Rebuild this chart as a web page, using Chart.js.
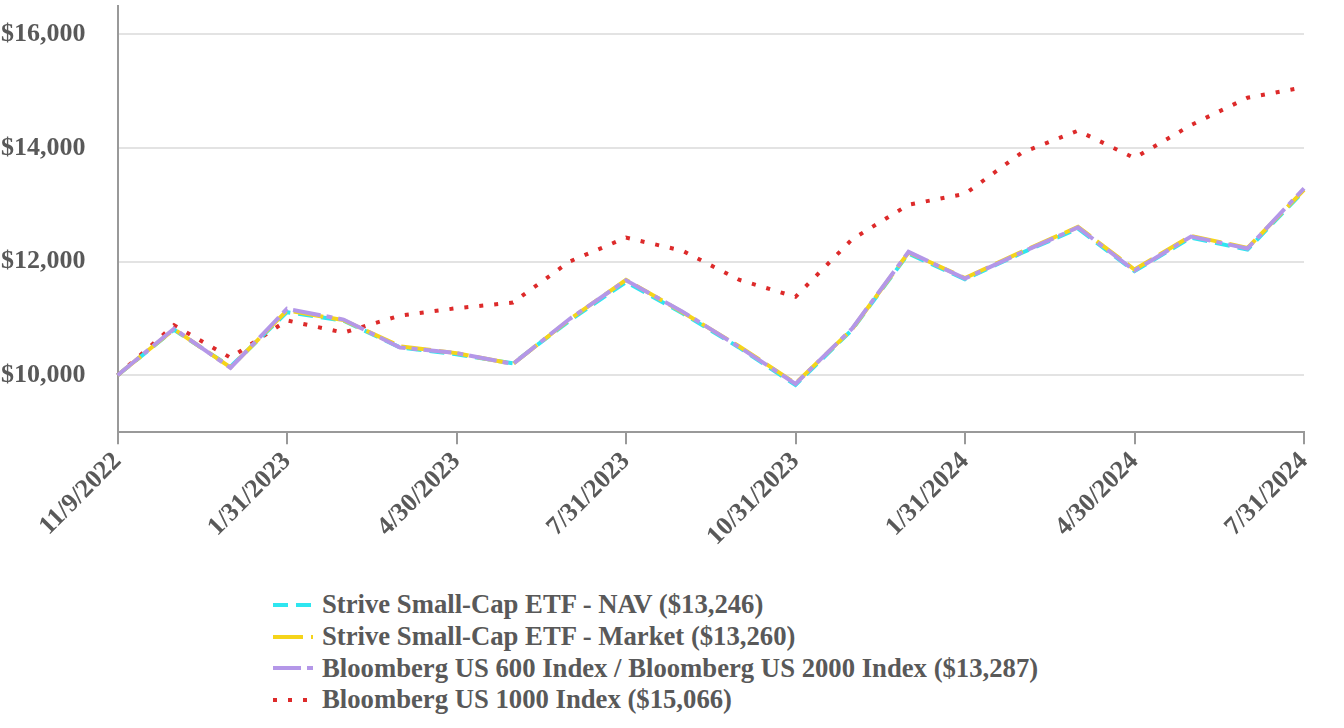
<!DOCTYPE html>
<html>
<head>
<meta charset="utf-8">
<script src="https://cdn.jsdelivr.net/npm/chart.js@4.4.1/dist/chart.umd.min.js"></script>
<style>
  body { margin: 0; background: #fff; overflow: hidden; }
  #wrap { position: relative; width: 1344px; height: 728px; overflow: hidden; }
  #box { position: absolute; left: -31px; top: -42px; width: 1375px; height: 596px; }
  #legend { position: absolute; left: 273px; top: 589px; font: bold 26.7px "Liberation Serif", serif; color: #595959; }
  #legend div { display: flex; align-items: center; height: 31.7px; white-space: nowrap; }
  #legend svg { margin-right: 9px; }
</style>
</head>
<body>
<div id="wrap">
  <div id="box"><canvas id="myChart"></canvas></div>
  <div id="legend"></div>
</div>
<script>
// data
const dates = ['11/9/2022', '11/30/2022', '12/31/2022', '1/31/2023', '2/28/2023', '3/31/2023',
    '4/30/2023', '5/31/2023', '6/30/2023', '7/31/2023', '8/31/2023', '9/30/2023', '10/31/2023',
    '11/30/2023', '12/31/2023', '1/31/2024', '2/29/2024', '3/31/2024', '4/30/2024', '5/31/2024',
    '6/30/2024', '7/31/2024'];
const shownDates = ['11/9/2022', '1/31/2023', '4/30/2023', '7/31/2023', '10/31/2023', '1/31/2024', '4/30/2024', '7/31/2024'];

const navValues = [10000, 10800, 10150, 11110, 10960, 10490, 10370, 10210, 10960, 11640, 11090, 10490, 9830,
    10800, 12140, 11690, 12150, 12580, 11830, 12420, 12210, 13246];
const marketValues = [10000, 10810, 10140, 11140, 10970, 10510, 10390, 10200, 10980, 11680, 11110, 10510, 9860,
    10810, 12160, 11710, 12170, 12610, 11860, 12450, 12240, 13260];
const us600Values = [10000, 10820, 10130, 11170, 10980, 10490, 10390, 10200, 10990, 11670, 11120, 10500, 9850,
    10820, 12170, 11700, 12160, 12600, 11840, 12440, 12230, 13287];
const us1000Values = [10000, 10880, 10310, 10965, 10750, 11050, 11180, 11280, 12000, 12420, 12190, 11680, 11380,
    12390, 13000, 13190, 13910, 14300, 13820, 14400, 14880, 15066];

const yTicks = [10000, 12000, 14000, 16000];

const labelFont = { family: '"Liberation Serif", serif', size: 26, weight: 'bold' };
const textColor = '#595959';

// config
const config = {
    type: 'line',
    data: {
        labels: dates,
        datasets: [{
            label: 'Strive Small-Cap ETF - NAV ($13,246)',
            data: navValues,
            borderColor: '#2ee6f0',
            borderDash: [15, 8],
            order: 2
        }, {
            label: 'Strive Small-Cap ETF - Market ($13,260)',
            data: marketValues,
            borderColor: '#f5d41a',
            borderDash: [30, 8],
            order: 1
        }, {
            label: 'Bloomberg US 600 Index / Bloomberg US 2000 Index ($13,287)',
            data: us600Values,
            borderColor: '#b497e8',
            borderDash: [28, 6, 6, 6],
            order: 0
        }, {
            label: 'Bloomberg US 1000 Index ($15,066)',
            data: us1000Values,
            borderColor: '#dd2a2a',
            borderDash: [4, 11],
            order: 3
        }]
    },
    options: {
        responsive: true,
        maintainAspectRatio: false,
        animation: false,
        elements: {
            point: { radius: 0 },
            line: { borderWidth: 4, tension: 0, fill: false }
        },
        layout: { padding: { top: 5, right: 40, left: 0, bottom: 0 } },
        plugins: {
            legend: { display: false },
            tooltip: { enabled: false }
        },
        scales: {
            x: {
                grid: { display: true, drawOnChartArea: false, color: '#999', lineWidth: 2, tickLength: 12 },
                border: { color: '#999', width: 2 },
                ticks: {
                    autoSkip: false,
                    maxRotation: 45,
                    minRotation: 45,
                    padding: 2,
                    color: textColor,
                    font: labelFont,
                    callback: function(value, index) {
                        const d = dates[index];
                        return shownDates.includes(d) ? d : null;
                    }
                }
            },
            y: {
                min: 9000,
                max: 16500,
                afterBuildTicks: function(axis) {
                    axis.ticks = yTicks.map(v => ({ value: v }));
                },
                grid: { color: '#e3e3e3', lineWidth: 2, drawTicks: false },
                border: { color: '#999', width: 2 },
                ticks: {
                    padding: 32,
                    color: textColor,
                    font: labelFont,
                    callback: function(value) {
                        return '$' + value.toLocaleString('en-US');
                    }
                }
            }
        }
    }
};

const myChart = new Chart(document.getElementById('myChart'), config);

// legend, one item per row
const legendEl = document.getElementById('legend');
myChart.data.datasets.forEach(ds => {
    const row = document.createElement('div');
    const dash = ds.borderDash.join(' ');
    row.innerHTML = '<svg width="40" height="10"><line x1="0" y1="5" x2="40" y2="5" stroke="' + ds.borderColor +
        '" stroke-width="4" stroke-dasharray="' + dash + '"/></svg><span></span>';
    row.querySelector('span').textContent = ds.label;
    legendEl.appendChild(row);
});
</script>
</body>
</html>
